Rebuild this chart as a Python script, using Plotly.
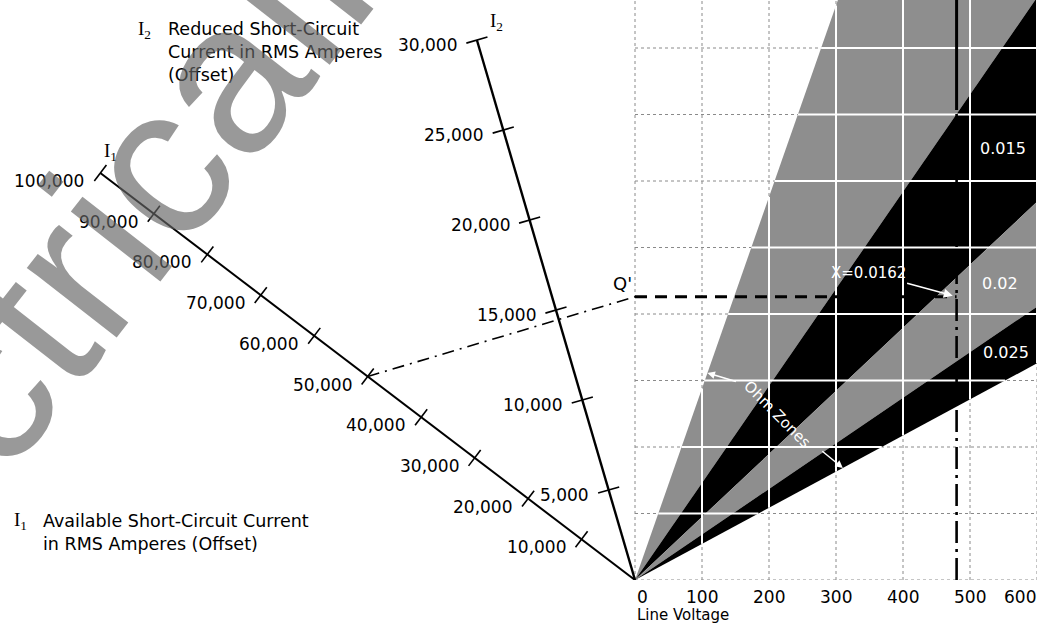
import math
import plotly.graph_objects as go

# ---------------- values ----------------
voltage_ticks = [0, 100, 200, 300, 400, 500, 600]
grid_heights = [0, 100, 200, 300, 400, 500, 600, 700, 800]
i1_ticks = [10000, 20000, 30000, 40000, 50000, 60000, 70000, 80000, 90000, 100000]
i2_ticks = [5000, 10000, 15000, 20000, 25000, 30000]
# rays from the origin bounding the ohm zones (grid units per volt), steepest first
zone_slopes = [2.88, 1.46, 0.948, 0.685, 0.543]
zone_shades = ["gray", "black", "gray", "black"]
zone_names = ["", "0.015", "0.02", "0.025"]
# worked example
example_i1 = 50000
example_voltage = 480
example_q = 426
example_label = "X=0.0162"

# ---------------- geometry / style ----------------
W, H = 1037, 625
X0_PX, Y0_PX = 635, 580          # pixel position of the common origin
V_MIN, V_MAX = -947.8, 600.0
H_MAX = 872.2
SX = W / (V_MAX - V_MIN)
SY = Y0_PX / H_MAX
I1_FULL, I1_END = 100000, (-798.0, 612.0)
I2_FULL, I2_END = 30000, (-236.0, 812.0)
GRAY = "#8e8e8e"
FONT = "DejaVu Sans"
SERIF = "Liberation Serif"


def px(px_x, px_y):
    """pixel position -> data coordinates"""
    return ((px_x - X0_PX) / SX, (Y0_PX - px_y) / SY)


def i1_point(a):
    f = a / I1_FULL
    return (I1_END[0] * f, I1_END[1] * f)


def i2_point(a):
    f = a / I2_FULL
    return (I2_END[0] * f, I2_END[1] * f)


def cross_tick(p, end, half_px):
    """short segment through p, perpendicular (on screen) to the direction of end"""
    dx, dy = end[0] * SX, -end[1] * SY
    n = math.hypot(dx, dy)
    nx, ny = -dy / n, dx / n
    ox, oy = nx * half_px / SX, -ny * half_px / SY
    return [p[0] - ox, p[0] + ox], [p[1] - oy, p[1] + oy]


fig = go.Figure()


def line(xs, ys, color="black", width=1.5, dash="solid"):
    fig.add_trace(go.Scatter(x=xs, y=ys, mode="lines",
                             line=dict(color=color, width=width, dash=dash),
                             hoverinfo="skip", showlegend=False))


# dotted grid on the voltage chart
gx, gy = [], []
for v in voltage_ticks:
    gx += [v, v, None]
    gy += [0, H_MAX, None]
for h in grid_heights:
    gx += [0, V_MAX, None]
    gy += [h, h, None]
line(gx, gy, color="#8a8a8a", width=1, dash="dot")

# ohm zones
far = 800
for k, shade in enumerate(zone_shades):
    s_hi, s_lo = zone_slopes[k], zone_slopes[k + 1]
    fig.add_trace(go.Scatter(
        x=[0, far, far, 0], y=[0, s_hi * far, s_lo * far, 0],
        mode="lines", fill="toself",
        fillcolor=GRAY if shade == "gray" else "black",
        line=dict(width=0), hoverinfo="skip", showlegend=False))

# white grid lines across the zones
wx, wy = [], []
s_top, s_bot = zone_slopes[0], zone_slopes[-1]
for v in voltage_ticks[1:]:
    wx += [v, v, None]
    wy += [s_bot * v, min(s_top * v, H_MAX), None]
for h in grid_heights[1:]:
    wx += [h / s_top, min(h / s_bot, V_MAX), None]
    wy += [h, h, None]
line(wx, wy, color="white", width=2)

# I1 scale
e1 = i1_point(I1_FULL)
line([0, e1[0]], [0, e1[1]], width=2)
tx, ty = [], []
for a in i1_ticks:
    sx, sy = cross_tick(i1_point(a), I1_END, 10)
    tx += sx + [None]
    ty += sy + [None]
line(tx, ty, width=1.6)

# I2 scale
e2 = i2_point(I2_FULL)
line([0, e2[0]], [0, e2[1]], width=2.4)
tx, ty = [], []
for a in i2_ticks:
    sx, sy = cross_tick(i2_point(a), I2_END, 11)
    tx += sx + [None]
    ty += sy + [None]
line(tx, ty, width=1.6)

# worked example
p1 = i1_point(example_i1)
line([p1[0], 0], [p1[1], example_q], width=1.6, dash="12px,6px,2px,6px")
line([0, example_voltage], [example_q, example_q], width=3, dash="12px,8px")
split_h = (Y0_PX - 110) / SY
line([example_voltage, example_voltage], [split_h, H_MAX], width=3)
line([example_voltage, example_voltage], [0, split_h], width=2.6,
     dash="22px,6px,3px,6px")

ann = []


def text(x, y, s, size=17, color="black", xanchor="center", yanchor="middle",
         family=FONT, **kw):
    ann.append(dict(x=x, y=y, xref="x", yref="y", text=s, showarrow=False,
                    xanchor=xanchor, yanchor=yanchor,
                    font=dict(family=family, size=size, color=color), **kw))


# scale labels
for a in i1_ticks:
    p = i1_point(a)
    text(p[0], p[1], f"{a:,}", xanchor="right", xshift=-14, yshift=-8)
for a in i2_ticks:
    p = i2_point(a)
    text(p[0], p[1], f"{a:,}", xanchor="right", xshift=-18, yshift=-5)

# voltage scale labels below the chart
for v in voltage_ticks:
    if v == 0:
        xa, xs = "left", 0
    elif v == voltage_ticks[-1]:
        xa, xs = "left", -35
    else:
        xa, xs = "center", 0
    ann.append(dict(x=v, y=-17 / Y0_PX, xref="x", yref="paper", text=str(v),
                    showarrow=False, xanchor=xa, yanchor="middle", xshift=xs,
                    font=dict(family=FONT, size=17, color="black")))

text(*px(110, 152), "I<sub>1</sub>", size=19, family=SERIF)
text(*px(496, 22), "I<sub>2</sub>", size=19, family=SERIF)
text(*px(622, 283), "Q'", size=18)

# scale descriptions
text(*px(144, 30), "I<sub>2</sub>", size=19, family=SERIF)
text(*px(166, 52), "Reduced Short-Circuit<br>Current in RMS Amperes<br>(Offset)",
     xanchor="left", align="left", size=17.5)
text(*px(20, 521), "I<sub>1</sub>", size=19, family=SERIF)
text(*px(41, 532), "Available Short-Circuit Current<br>in RMS Amperes (Offset)",
     xanchor="left", align="left", size=17.5)

# zone values
for name, (qx, qy) in zip(zone_names, [(0, 0), (1003, 148), (1000, 283), (1006, 352)]):
    if name:
        text(*px(qx, qy), name, size=16, color="white")

# example value arrow
ann.append(dict(x=example_voltage, y=example_q, xref="x", yref="y",
                text=example_label, showarrow=True, arrowhead=2, arrowsize=1.2,
                arrowwidth=1.5, arrowcolor="white", standoff=4, ax=-88, ay=-24,
                font=dict(family=FONT, size=15, color="white")))

# "Ohm Zones" with arrows to the zone edges
text(*px(777, 414), "Ohm Zones", size=15, color="white", textangle=45)
ha = (Y0_PX - 373) / SY
ann.append(dict(x=ha / zone_slopes[0], y=ha, xref="x", yref="y", text="",
                showarrow=True, arrowhead=2, arrowwidth=1.5, arrowcolor="white",
                ax=30, ay=9))
hb = (Y0_PX - 468) / SY
ann.append(dict(x=hb / zone_slopes[-1], y=hb, xref="x", yref="y", text="",
                showarrow=True, arrowhead=2, arrowwidth=1.5, arrowcolor="white",
                ax=-22, ay=-18))

# axis title
ann.append(dict(x=0, y=-35 / Y0_PX, xref="x", yref="paper", text="Line Voltage",
                showarrow=False, xanchor="left", yanchor="middle",
                font=dict(family=FONT, size=15, color="black")))

# source watermark
ann.append(dict(x=538 / W, y=(Y0_PX + 322) / Y0_PX, xref="paper", yref="paper",
                text="ElectricalPartManuals.com", showarrow=False,
                xanchor="center", yanchor="middle", textangle=-52,
                font=dict(family="Liberation Sans", size=215,
                          color="rgba(100,100,100,0.66)")))

fig.update_layout(
    width=W, height=H,
    margin=dict(l=0, r=0, t=0, b=H - Y0_PX, pad=0),
    paper_bgcolor="white", plot_bgcolor="white",
    annotations=ann,
    xaxis=dict(range=[V_MIN, V_MAX], showgrid=False, zeroline=False,
               showline=False, ticks="", showticklabels=False),
    yaxis=dict(range=[0, H_MAX], visible=False, showgrid=False, zeroline=False),
)

fig.write_html("out.html")
